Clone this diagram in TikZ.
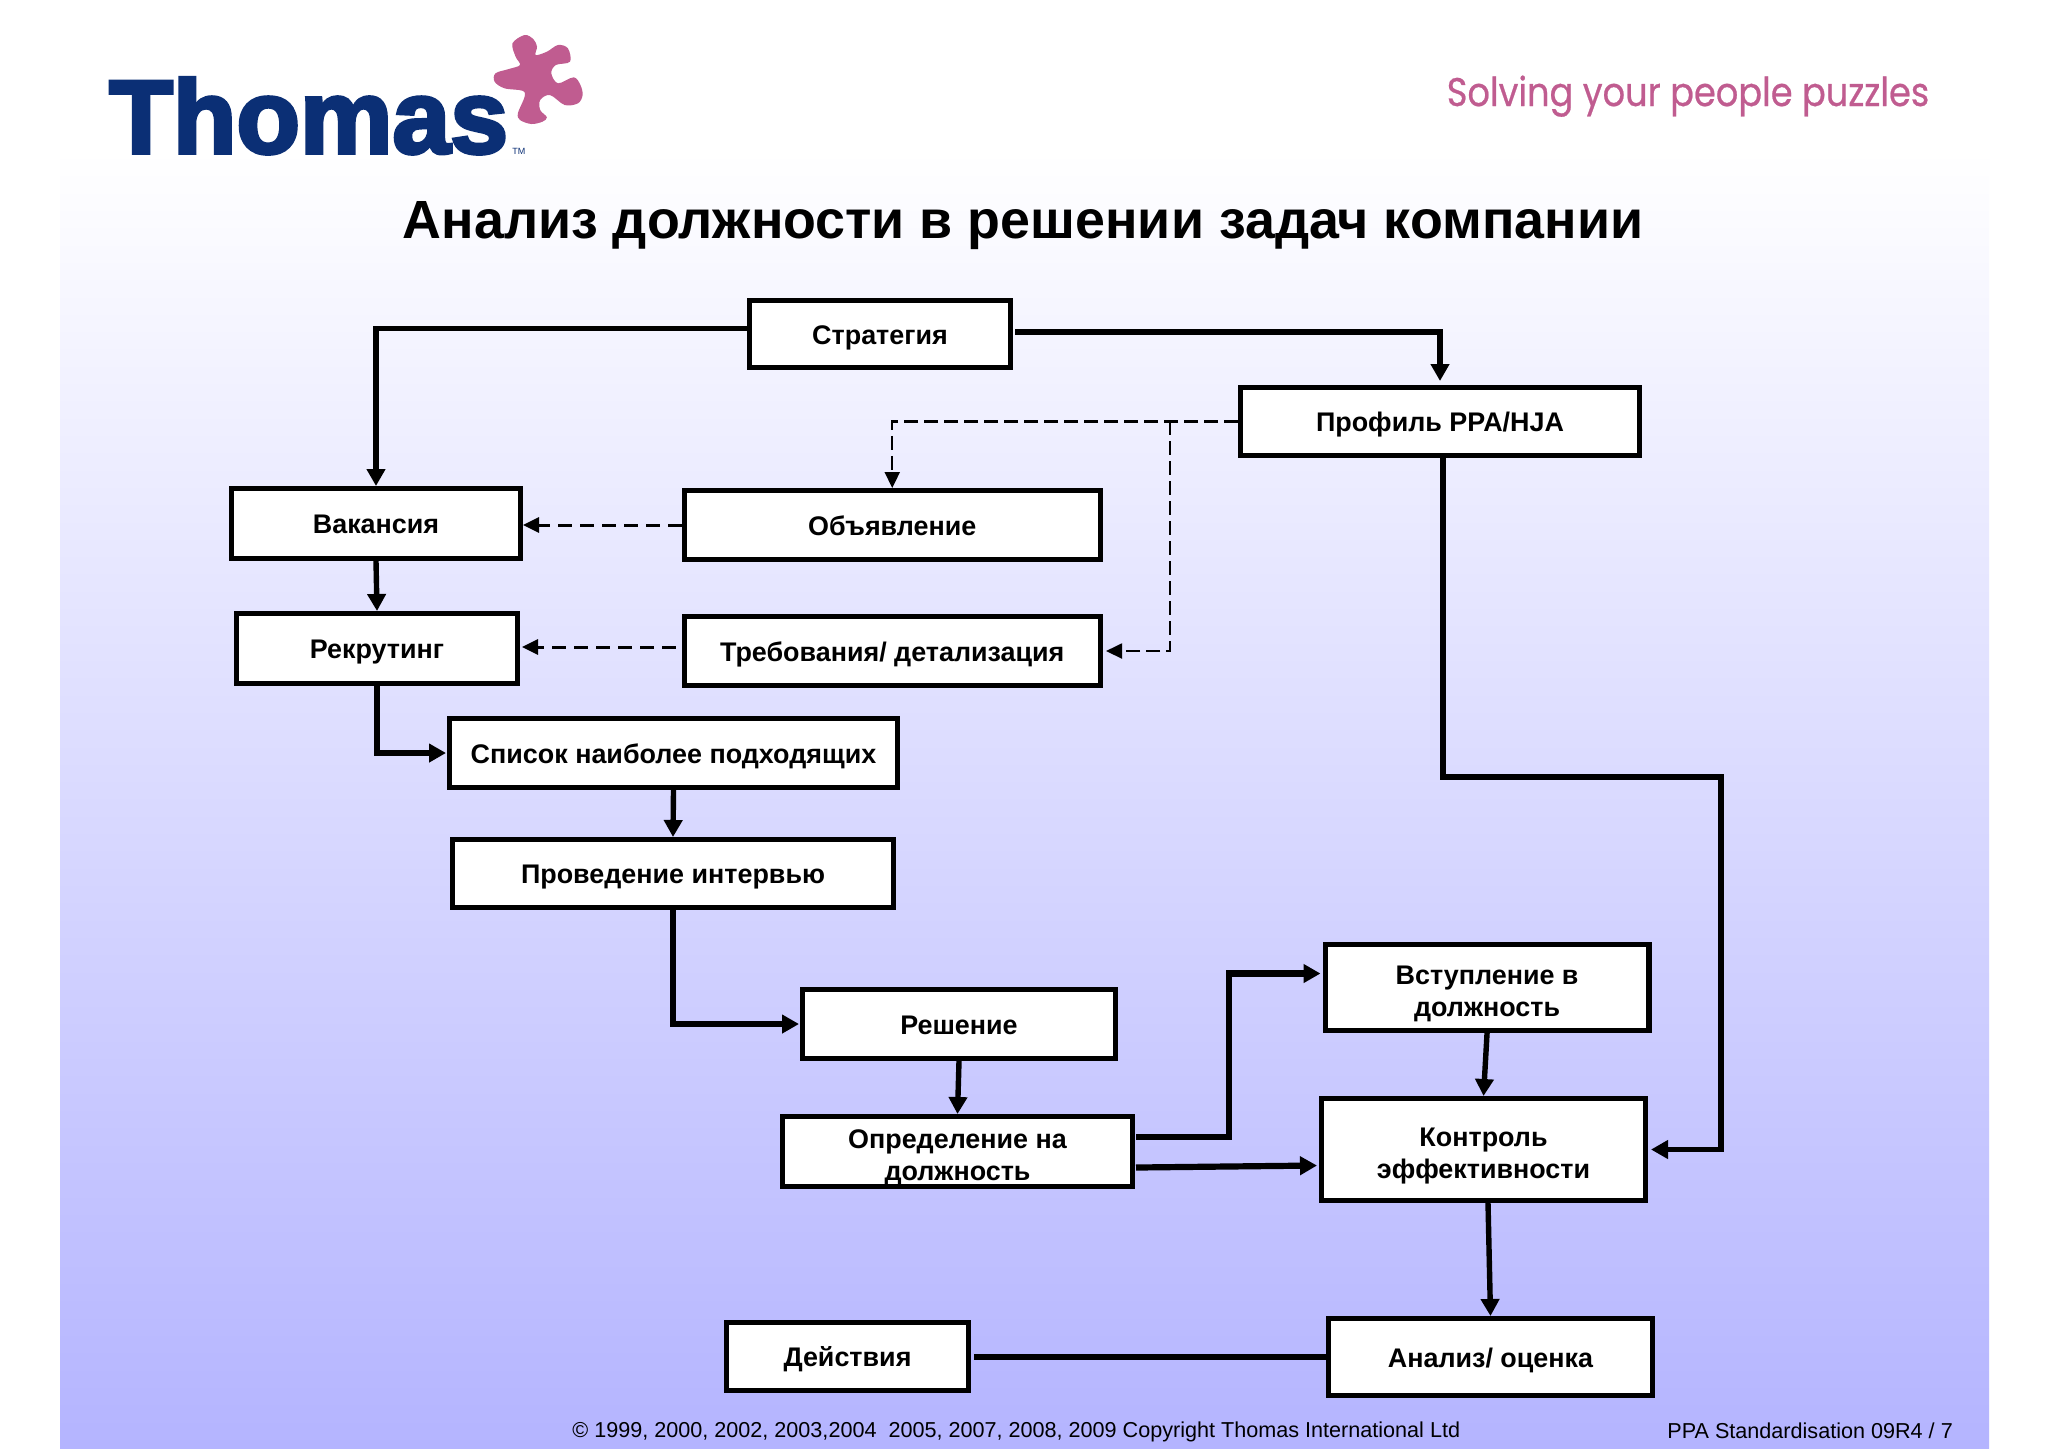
\documentclass[tikz,border=0pt]{standalone}
\usepackage{fontspec}
\setmainfont{Liberation Sans}
\newfontfamily\logofont[FakeBold=3.5]{Liberation Sans Bold}
\newfontfamily\tagfont[FakeBold=0.6]{Poppins}
\usetikzlibrary{arrows.meta,calc}
\definecolor{bandbot}{RGB}{180,180,255}
\definecolor{logoblue}{RGB}{11,47,117}
\definecolor{logopink}{RGB}{192,92,144}
\tikzset{
  x=0.5pt,y=-0.5pt,
  flowbox/.style={draw=black,fill=white,line width=2.7pt,inner sep=0pt,align=center,
    font=\fontsize{13.45pt}{15.8pt}\selectfont\bfseries,
    execute at begin node={\rule{0pt}{13pt}},
    execute at end node={\rule[-3pt]{0pt}{3pt}}},
  solidlink/.style={draw=black,line width=2.7pt,-{Triangle[length=8.5pt,width=9pt]},line join=miter},
  plainlink/.style={draw=black,line width=3pt},
  heavylink/.style={solidlink,line width=3.1pt},
  dashlink/.style={draw=black,line width=1.5pt,dash pattern=on 7pt off 4pt,-{Triangle[length=8pt,width=7.5pt]}},
  thindash/.style={dashlink,line width=1.1pt,dash pattern=on 7pt off 3pt},
}
\newcommand{\flow}[6]{%
  \node[flowbox,minimum width={(#4-#2-5.4)*0.5pt},minimum height={(#5-#3-5.4)*0.5pt}] (#1)
    at ({(#2+#4)/2},{(#3+#5)/2}) {#6};}
\newcommand{\lowerline}{\rule{0pt}{15.7pt}}
\begin{document}
\begin{tikzpicture}
\useasboundingbox (0,0) rectangle (2048,1448);
\fill[white] (0,0) rectangle (2048,1448);
\shade[top color=white,bottom color=bandbot] (60,150) rectangle (1989,1448);

% logo
\node[anchor=base west,inner sep=0pt,text=logoblue,font=\fontsize{52pt}{52pt}\logofont] (logo) at (109,153) {Thomas};
\node[anchor=base west,inner sep=0pt,text=logoblue,font=\fontsize{4.5pt}{5pt}\selectfont] (tm) at (512,154) {TM};
\fill[logopink] plot[smooth cycle,tension=0.55] coordinates {
(524.6,35)(533.5,39.3)(537,46.7)(535.7,55)(546.9,51.7)(558,45)(567.9,48.3)(570,61.7)
(555.8,65)(551.3,73.3)(558,83.3)(573.7,77.3)(580.4,85)(582.6,95)(578,103.3)(564.7,105)
(550,95)(540.2,100)(540.2,110)(546.9,117.3)(542.4,121.7)(531.3,124)(520,120)(517.9,113.3)
(524.6,96.7)(522.3,90.7)(504.5,88.3)(494.6,81.7)(495.5,73.3)(508.9,69)(520,65)(515.6,56.7)(512.5,43.3)};
\node[anchor=base,inner sep=0pt,text=logopink,xscale=0.88,font=\fontsize{20pt}{20pt}\tagfont] (tag) at (1688,106) {Solving your people puzzles};

% title
\node[anchor=base,inner sep=0pt,font=\fontsize{26.9pt}{30pt}\selectfont\bfseries] (title) at (1023,238) {Анализ должности в решении задач компании};

% boxes
\flow{strat}{747}{298}{1013}{370}{Стратегия}
\flow{prof}{1238}{385}{1642}{458}{Профиль PPA/HJA}
\flow{vak}{229}{486}{523}{561}{Вакансия}
\flow{obv}{681.5}{488}{1103}{562}{Объявление}
\flow{rek}{234}{611}{520}{686}{Рекрутинг}
\flow{treb}{681.5}{614}{1103}{688}{Требования/ детализация}
\flow{spis}{447}{716}{900}{790}{Список наиболее подходящих}
\flow{prov}{450}{837}{896}{910}{Проведение интервью}
\flow{resh}{800}{987}{1118}{1061}{Решение}
\flow{opr}{780}{1114}{1135}{1189}{\lowerline Определение на\\должность}
\flow{vst}{1322.5}{942}{1651.6}{1033}{\lowerline Вступление в\\должность}
\flow{kontr}{1319}{1096}{1648}{1203}{\lowerline Контроль\\эффективности}
\flow{deis}{724}{1320}{971}{1393}{Действия}
\flow{anal}{1326}{1316}{1655}{1398}{Анализ/ оценка}

% helper points
\coordinate (bendA) at (1170,421);
\coordinate (bendB) at (1229,1137);
\coordinate (bendC) at (1443,777);
\coordinate (bendD) at (1721,777);

% solid connectors
\draw[solidlink] ([yshift=2.75pt]strat.west) -| (vak.north);
\draw[heavylink] ([xshift=1pt,yshift=1pt]strat.east) -| ([yshift=2pt]prof.north);
\draw[solidlink] (vak.south) -- (rek.north);
\draw[solidlink] (rek.south) |- ([xshift=-0.5pt]spis.west);
\draw[solidlink] (spis.south) -- (prov.north);
\draw[solidlink] (prov.south) |- ([xshift=-0.5pt]resh.west);
\draw[solidlink] (resh.south) -- (opr.north);
\draw[heavylink] ([xshift=0.5pt,yshift=7.2pt]opr.east) -| (bendB) |- ([xshift=-1pt,yshift=7pt]vst.west);
\draw[heavylink] ([xshift=0.5pt,yshift=-8pt]opr.east) -- ([xshift=-1pt,yshift=-8pt]kontr.west);
\draw[solidlink] (vst.south) -- (kontr.north);
\draw[solidlink] ([xshift=2.25pt]kontr.south) -- (anal.north);
\draw[solidlink] (prof.south -| bendC) -- (bendC) -- (bendD) |- ([xshift=1.5pt]kontr.east);
\draw[plainlink] ([xshift=1.5pt]deis.east) -- (deis.east -| anal.west);

% dashed connectors
\draw[thindash] (prof.west) -| (obv.north);
\draw[thindash,line width=1pt] (bendA) |- ([xshift=1.5pt]treb.east);
\draw[dashlink] (obv.west) -- (obv.west -| vak.east);
\draw[dashlink] ([xshift=-3pt,yshift=2pt]treb.west) -- ([xshift=1pt,yshift=2pt]treb.west -| rek.east);

% footer
\node[anchor=base west,inner sep=0pt,font=\fontsize{10.8pt}{12pt}\selectfont] (copy) at (572,1437) {© 1999, 2000, 2002, 2003,2004\ \ 2005, 2007, 2008, 2009 Copyright Thomas International Ltd};
\node[anchor=base west,inner sep=0pt,font=\fontsize{10.8pt}{12pt}\selectfont] (std) at (1667,1438) {PPA Standardisation 09R4 / 7};
\end{tikzpicture}
\end{document}
